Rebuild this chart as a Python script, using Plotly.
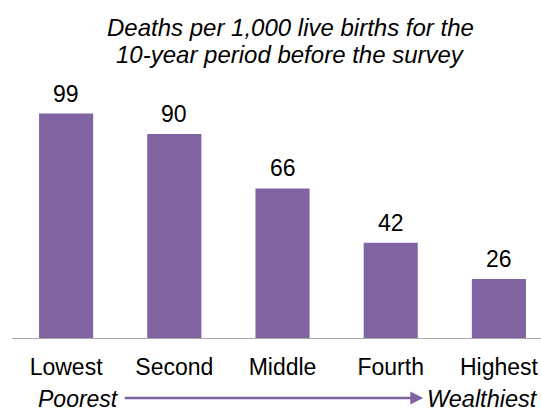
import plotly.graph_objects as go

categories = ["Lowest", "Second", "Middle", "Fourth", "Highest"]
deaths = [99, 90, 66, 42, 26]
title_lines = ["Deaths per 1,000 live births for the", "10-year period before the survey"]
left_label = "Poorest"
right_label = "Wealthiest"

purple = "#8064A2"
font_family = "Arial, Liberation Sans, sans-serif"

fig = go.Figure()
fig.add_trace(go.Bar(
    x=list(range(len(categories))),
    y=deaths,
    marker=dict(color=purple, line=dict(width=0)),
    width=0.5,
    hoverinfo="skip",
))

# value labels above the bars
for i, v in enumerate(deaths):
    fig.add_annotation(
        x=i, y=v, xref="x", yref="y",
        text=str(v), showarrow=False,
        yanchor="middle", yshift=20,
        font=dict(size=23, color="black", family=font_family),
    )

# two-line italic title
for line, yy in zip(title_lines, [1.143, 1.043]):
    fig.add_annotation(
        x=0.526, y=yy, xref="paper", yref="paper",
        text="<i>%s</i>" % line, showarrow=False,
        xanchor="center", yanchor="middle",
        font=dict(size=24, color="black", family=font_family),
    )

# poorest -> wealthiest arrow
fig.add_annotation(
    x=0.7775, y=-0.2206, xref="paper", yref="paper",
    ax=-300, ay=0, text="", showarrow=True,
    arrowhead=2, arrowsize=1, arrowwidth=2.6, arrowcolor=purple,
    standoff=0,
)
fig.add_annotation(
    x=0.2065, y=-0.224, xref="paper", yref="paper",
    text="<i>%s</i>" % left_label, showarrow=False,
    xanchor="right", yanchor="middle",
    font=dict(size=23, color="black", family=font_family),
)
fig.add_annotation(
    x=0.781, y=-0.224, xref="paper", yref="paper",
    text="<i>%s</i>" % right_label, showarrow=False,
    xanchor="left", yanchor="middle",
    font=dict(size=23.5, color="black", family=font_family),
)

fig.update_layout(
    width=541, height=410,
    margin=dict(l=12, r=0, t=66, b=72),
    paper_bgcolor="white", plot_bgcolor="white",
    showlegend=False,
    font=dict(family=font_family, color="black"),
    xaxis=dict(
        range=[-0.5, 4.389],
        tickmode="array",
        tickvals=list(range(len(categories))),
        ticktext=categories,
        tickfont=dict(size=23, color="black"),
        showgrid=False, zeroline=False,
        showline=True, linecolor="#A6A6A6", linewidth=1,
        ticks="", ticklabelstandoff=8,
        ticklabeloverflow="allow",
    ),
    yaxis=dict(
        range=[0, 120],
        visible=False,
        showgrid=False, zeroline=False,
    ),
)

# drop the default body margin so the figure fills the window without scrollbars
fig.write_html(
    "out.html",
    config={"displayModeBar": False},
    post_script="document.body.style.margin='0';"
                "document.body.style.overflow='hidden';"
                "document.documentElement.style.overflow='hidden';",
)
